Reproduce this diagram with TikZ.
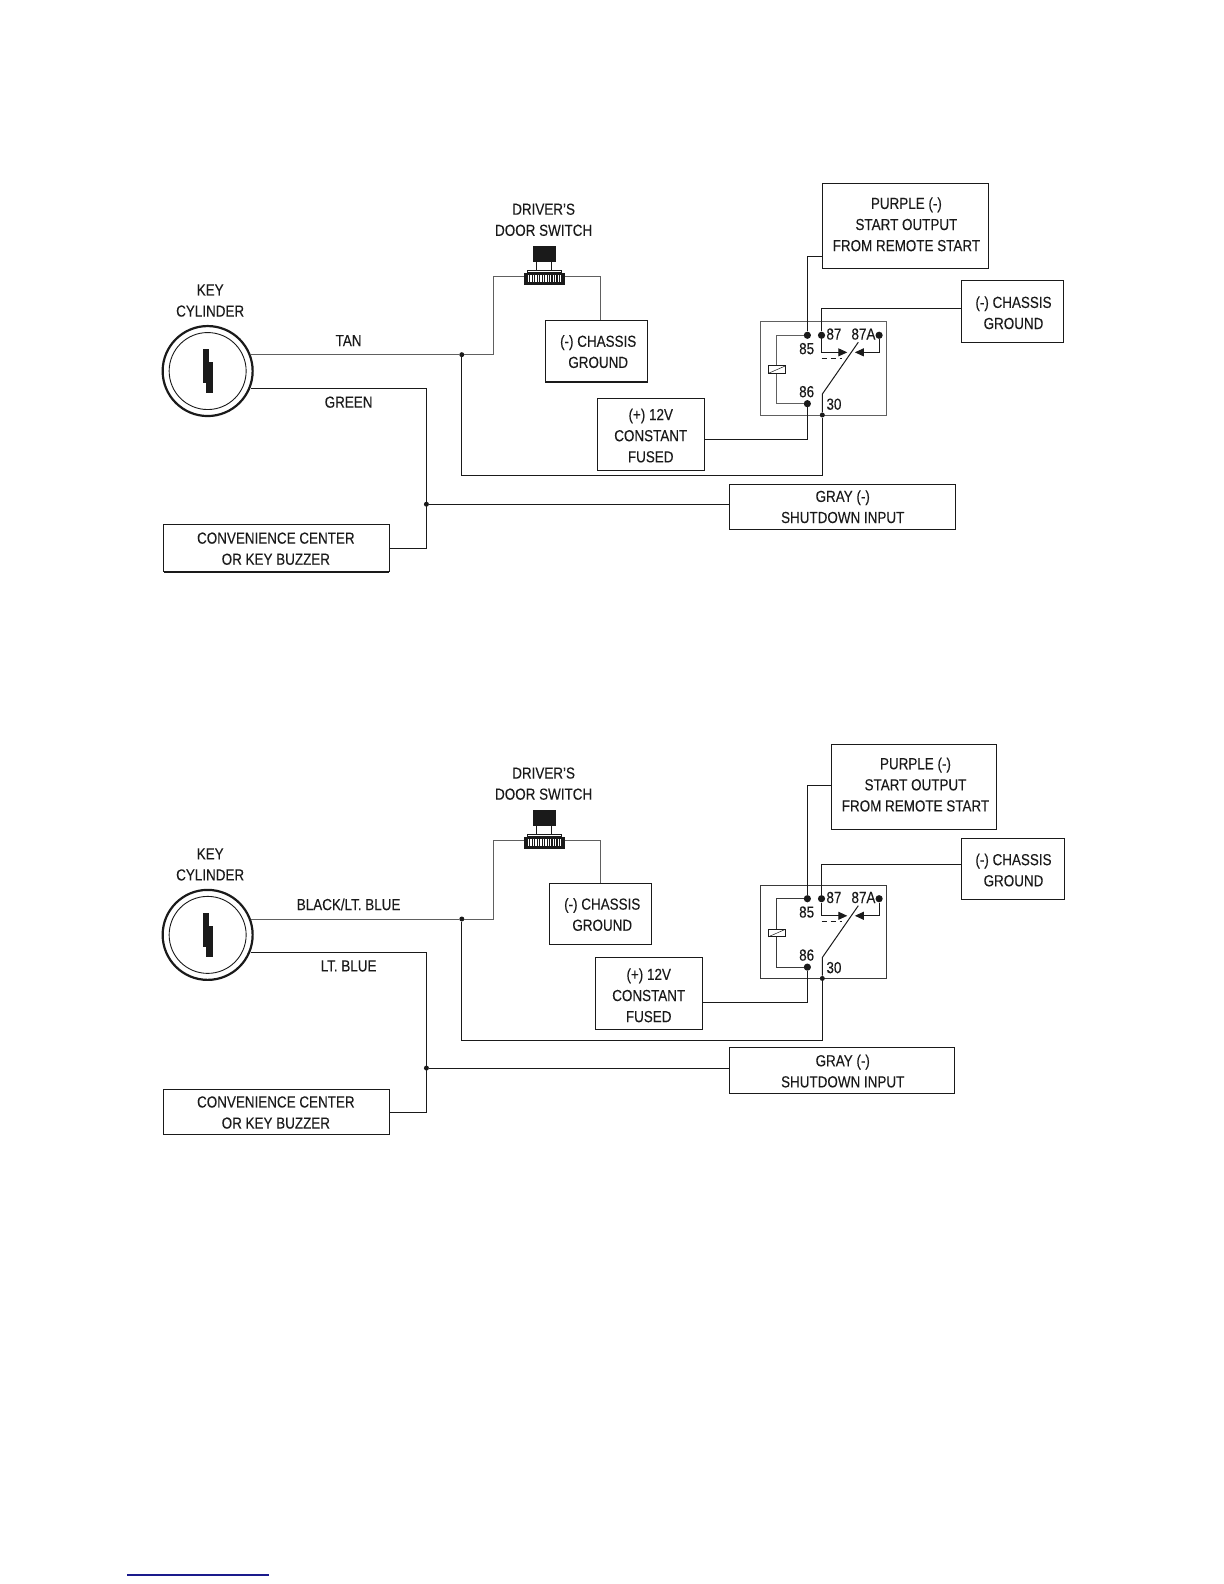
\documentclass[tikz,border=0pt]{standalone}
\usepackage{fontspec}
\setmainfont[FakeStretch=0.84,FakeBold=0.12]{Liberation Sans}
\usetikzlibrary{arrows.meta}
\definecolor{ink}{HTML}{1A1A1A}
\definecolor{graywire}{HTML}{606060}
\definecolor{darkwire}{HTML}{3A3A3A}
\definecolor{rule}{HTML}{1A1A8C}
\tikzset{
  x=1.0105pt,y=-1.0105pt,
  labeltext/.style={inner sep=0pt,outer sep=0pt,text=ink,font=\fontsize{16}{21.1}\selectfont,align=center},
  wirebox/.style={inner sep=0pt,outer sep=0pt,draw=ink,line width=0.9pt},
  wire/.style={draw=ink,line width=1pt},
  tanwire/.style={draw=graywire,line width=1pt},
  bigdot/.style={circle,fill=ink,inner sep=0pt,minimum size=7.2pt},
  smalldot/.style={circle,fill=ink,inner sep=0pt,minimum size=5pt},
  arrowwire/.style={wire,-{Triangle[length=9pt,width=8pt]}},
  underrule/.style={draw=ink,line width=1.6pt},
}
\newcommand{\wbox}[8]{%
  \pgfmathsetmacro{\bcx}{(#2+#4)/2}\pgfmathsetmacro{\bcy}{(#3+#5)/2}%
  \pgfmathsetmacro{\bw}{(#4-#2)*1.0105}\pgfmathsetmacro{\bh}{(#5-#3)*1.0105}%
  \node[wirebox,minimum width=\bw pt,minimum height=\bh pt] (#1) at (\bcx,\bcy) {};
  \node[labeltext] (#1text) at (#6,#7) {#8};}
\newcommand{\keycyl}[2]{%
  \begin{scope}[shift={(0,#2)}]
    \coordinate (#1c) at (205.5,367.2);
    \node[circle,draw=ink,line width=2.2pt,minimum size=90pt,inner sep=0pt] (#1outer) at (#1c) {};
    \node[circle,draw=ink,line width=0.9pt,minimum size=77pt,inner sep=0pt] (#1inner) at (#1c) {};
    \fill[ink] (201.2,345.4) rectangle (207.1,379.4);
    \fill[ink] (203.9,358) rectangle (211.1,389.2);
    \node[labeltext] (#1keytext) at (208,297.5) {KEY\\CYLINDER};
  \end{scope}}
\newcommand{\doorswitch}[2]{%
  \begin{scope}[shift={(0,#2)}]
    \fill[ink] (527.5,243.5) rectangle (550,259);
    \draw[ink,line width=0.8pt] (531,259) -- (531,268) (546,259) -- (546,268);
    \draw[ink,line width=0.8pt] (522,270) rectangle (556,267.5);
    \node[fill=ink,inner sep=0pt,minimum width=41pt,minimum height=12pt] (#1sw) at (539,276) {};
    \foreach \i in {0,...,13} {\fill[white] (522.4+\i*2.45,272.6) rectangle ++(1.3,6.6);}
    \coordinate (#1swl) at (519,273.8);
    \coordinate (#1swr) at (559,273.8);
    \node[labeltext] (#1swtext) at (538,217.5) {DRIVER'S\\DOOR SWITCH};
  \end{scope}}
\newcommand{\relay}[3]{%
  \begin{scope}[shift={(0,#2)}]
    \draw[draw=#3,line width=1.1pt] (752.5,318.5) rectangle (877.5,411);
    \node[bigdot] (#185) at (799,331.8) {};
    \node[bigdot] (#187) at (813,331.8) {};
    \node[bigdot] (#187a) at (870,331.8) {};
    \node[bigdot] (#186) at (799,399.5) {};
    \node[smalldot] (#130) at (813.8,410.7) {};
    \draw[draw=#3,line width=1pt] (#185) -- (768.6,331.8) -- (768.6,362);
    \draw[draw=#3,line width=1pt] (#186) -- (768.6,399.5) -- (768.6,369.5);
    \draw[ink,line width=0.8pt] (760.4,362) rectangle (777.5,369.5);
    \draw[ink,line width=0.5pt] (760.4,369.5) -- (777.5,362);
    \draw[arrowwire] (#187) -- (813,348.7) -- (838.5,348.7);
    \draw[arrowwire] (#187a) -- (870,348.7) -- (846,348.7);
    \draw[wire,dash pattern=on 5pt off 4pt] (813,354.3) -- (833,354.3);
    \draw[wire] (#130) -- (813.8,390) -- (849.4,338.7);
    \node[labeltext] (#1t85) at (798.3,345) {85};
    \node[labeltext] (#1t86) at (798.3,387.6) {86};
    \node[labeltext] (#1t87) at (825.3,330.6) {87};
    \node[labeltext] (#1t87a) at (854.5,330.6) {87A};
    \node[labeltext] (#1t30) at (825.3,400) {30};
  \end{scope}}
\begin{document}
\begin{tikzpicture}
\useasboundingbox (0,0) rectangle (1211.3,1567.6);
\fill[white] (0,0) rectangle (1211.3,1567.6);

% ---------- upper diagram
\keycyl{a}{0}
\doorswitch{a}{0}
\relay{a}{0}{graywire}
\wbox{apurple}{814}{182}{978}{266}{897}{222}{PURPLE (-)\\START OUTPUT\\FROM REMOTE START}
\wbox{agndr}{951}{278}{1052}{339}{1003}{309.5}{(-) CHASSIS\\GROUND}
\wbox{agndm}{540}{317}{641}{378}{592}{348}{(-) CHASSIS\\GROUND}
\wbox{a12v}{591}{394}{697}{466}{644}{431}{(+) 12V\\CONSTANT\\FUSED}
\wbox{agray}{722}{479}{946}{524}{834}{501.5}{GRAY (-)\\SHUTDOWN INPUT}
\wbox{aconv}{162}{519}{385}{566}{273}{543}{CONVENIENCE CENTER\\OR KEY BUZZER}
\draw[underrule] (agndr.south west) -- (agndr.south east);
\draw[underrule] (agndm.south west) -- (agndm.south east);
\draw[underrule] (aconv.south west) -- (aconv.south east);
\node[smalldot] (ajt) at (457,351) {};
\node[smalldot] (ajg) at (422,499) {};
\coordinate (akt) at (248.5,351);
\coordinate (akg) at (248.5,384);
\coordinate (apin) at (814,254);
\coordinate (agin) at (951,305.5);
\coordinate (acin) at (385,543);
\coordinate (a12o) at (697,434.8);
\draw[tanwire] (akt) -- (ajt) -- (488,351) -- (488,273.8) -- (aswl);
\draw[tanwire] (aswr) -- (594.5,273.8) -- (594.5,317);
\draw[wire] (akg) -- (422,384) -- (422,543) -- (acin);
\draw[wire] (ajg) -- (agray.west |- ajg);
\draw[wire] (ajt) -- (457,471) -- (813.8,471) -- (a30);
\draw[wire] (a85) |- (apin);
\draw[wire] (a87) |- (agin);
\draw[wire] (a86) |- (a12o);
\node[labeltext] (atan) at (345,337) {TAN};
\node[labeltext] (agreen) at (345,398) {GREEN};

% ---------- lower diagram
\keycyl{b}{558}
\doorswitch{b}{558}
\relay{b}{557.6}{darkwire}
\wbox{bpurple}{823}{737}{986}{821}{906}{776.5}{PURPLE (-)\\START OUTPUT\\FROM REMOTE START}
\wbox{bgndr}{951}{830}{1053}{890}{1003}{861}{(-) CHASSIS\\GROUND}
\wbox{bgndm}{544}{874}{645}{935}{596}{905}{(-) CHASSIS\\GROUND}
\wbox{b12v}{589}{948}{695}{1019}{642}{985}{(+) 12V\\CONSTANT\\FUSED}
\wbox{bgray}{722}{1037}{945}{1082}{834}{1060}{GRAY (-)\\SHUTDOWN INPUT}
\wbox{bconv}{162}{1078}{385}{1123}{273}{1101}{CONVENIENCE CENTER\\OR KEY BUZZER}
\node[smalldot] (bjt) at (457,909.5) {};
\node[smalldot] (bjg) at (422,1057) {};
\coordinate (bkt) at (248.5,909.5);
\coordinate (bkg) at (248.5,943);
\coordinate (bpin) at (823,777);
\coordinate (bgin) at (951,855.4);
\coordinate (bcin) at (385,1101);
\coordinate (b12o) at (695,992.3);
\draw[tanwire] (bkt) -- (bjt) -- (488,909.5) -- (488,831.8) -- (bswl);
\draw[tanwire] (bswr) -- (594.5,831.8) -- (594.5,874);
\draw[wire] (bkg) -- (422,943) -- (422,1101) -- (bcin);
\draw[wire] (bjg) -- (bgray.west |- bjg);
\draw[wire] (bjt) -- (457,1030) -- (813.8,1030) -- (b30);
\draw[wire] (b85) |- (bpin);
\draw[wire] (b87) |- (bgin);
\draw[wire] (b86) |- (b12o);
\node[labeltext] (bblack) at (345,895) {BLACK/LT. BLUE};
\node[labeltext] (bblue) at (345,956) {LT. BLUE};

% ---------- page-foot rule
\coordinate (rulea) at (125.7,1558.6);
\coordinate (ruleb) at (266,1558.6);
\draw[rule,line width=1.3pt] (rulea) -- (ruleb);
\end{tikzpicture}
\end{document}
